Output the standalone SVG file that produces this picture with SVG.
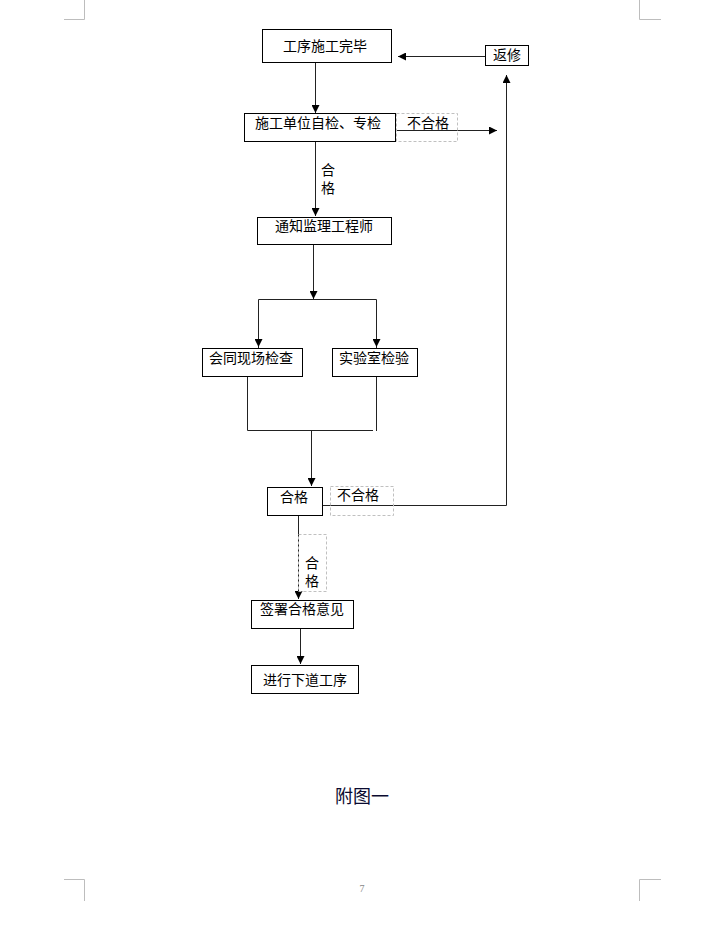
<svg xmlns="http://www.w3.org/2000/svg" width="709" height="933" viewBox="0 0 709 933">
<style>
.box{fill:#fff;stroke:#000;stroke-width:1}
.lbl{fill:none;stroke:#c0c0c0;stroke-width:1;stroke-dasharray:3,2}
.t{font-family:"Noto Sans CJK SC","Liberation Sans",sans-serif;font-size:14px;fill:#000;text-anchor:middle}
.v{font-family:"Noto Sans CJK SC","Liberation Sans",sans-serif;font-size:14px;fill:#000;text-anchor:middle;writing-mode:vertical-rl;letter-spacing:4px}
.ln{fill:none;stroke:#222;stroke-width:1}
.corner{fill:none;stroke:#bdbdbd;stroke-width:1}
</style>
<defs>
<marker id="ah" viewBox="0 0 10 10" refX="10" refY="5" markerWidth="8" markerHeight="8" markerUnits="userSpaceOnUse" orient="auto">
<path d="M0,0 L10,5 L0,10 z" fill="#000"/>
</marker>
</defs>
<rect width="709" height="933" fill="#fff"/>
<g id="corners">
<path class="corner" d="M84.5,0 V19.5 H64"/>
<path class="corner" d="M639.5,0 V19.5 H661"/>
<path class="corner" d="M64,879.5 H84.5 V901"/>
<path class="corner" d="M661,879.5 H639.5 V901"/>
</g>
<g id="connectors">
<line class="ln" x1="485" y1="56.5" x2="398" y2="56.5" marker-end="url(#ah)"/>
<line class="ln" x1="315.5" y1="63" x2="315.5" y2="113" marker-end="url(#ah)"/>
<line class="ln" x1="396" y1="130.5" x2="497" y2="130.5" marker-end="url(#ah)"/>
<line class="ln" x1="315.5" y1="142" x2="315.5" y2="216" marker-end="url(#ah)"/>
<line class="ln" x1="313.5" y1="244" x2="313.5" y2="299" marker-end="url(#ah)"/>
<path class="ln" d="M258.5,348 V299.5 H376.5 V348"/>
<line class="ln" x1="258.5" y1="330" x2="258.5" y2="347" marker-end="url(#ah)"/>
<line class="ln" x1="376.5" y1="330" x2="376.5" y2="347" marker-end="url(#ah)"/>
<path class="ln" d="M247.5,376 V430.5 H373"/>
<line class="ln" x1="376.5" y1="376" x2="376.5" y2="431"/>
<line class="ln" x1="311.5" y1="430" x2="311.5" y2="486" marker-end="url(#ah)"/>
<path class="ln" d="M323,505.5 H506.5 V76"/>
<line class="ln" x1="506.5" y1="90" x2="506.5" y2="75" marker-end="url(#ah)"/>
<line class="ln" x1="298.5" y1="515" x2="298.5" y2="599" marker-end="url(#ah)"/>
<line class="ln" x1="300.5" y1="628" x2="300.5" y2="664" marker-end="url(#ah)"/>
</g>
<g id="n1"><rect class="box" x="262.5" y="29.5" width="129" height="33"/><text class="t" x="325" y="51">工序施工完毕</text></g>
<g id="n2"><rect class="box" x="485.5" y="45.5" width="43" height="20"/><text class="t" x="507" y="60">返修</text></g>
<g id="n3"><rect class="box" x="244.5" y="113.5" width="151" height="28"/><text class="t" x="318" y="128">施工单位自检、专检</text></g>
<g id="l1"><rect class="lbl" x="396.5" y="113.5" width="61" height="28"/><text class="t" x="428" y="128">不合格</text></g>
<g id="l2"><text class="v" x="328" y="181">合格</text></g>
<g id="n4"><rect class="box" x="257.5" y="217.5" width="134" height="27"/><text class="t" x="324" y="231">通知监理工程师</text></g>
<g id="n5"><rect class="box" x="202.5" y="348.5" width="100" height="28"/><text class="t" x="251" y="363">会同现场检查</text></g>
<g id="n6"><rect class="box" x="332.5" y="348.5" width="85" height="28"/><text class="t" x="374" y="363">实验室检验</text></g>
<g id="n7"><rect class="box" x="267.5" y="487.5" width="55" height="28"/><text class="t" x="294" y="502">合格</text></g>
<g id="l3"><rect class="lbl" x="330.5" y="486.5" width="63" height="29"/><text class="t" x="358" y="500">不合格</text></g>
<g id="l4"><rect class="lbl" x="298.5" y="534.5" width="28" height="57"/><text class="v" x="312" y="574">合格</text></g>
<g id="n8"><rect class="box" x="251.5" y="600.5" width="102" height="28"/><text class="t" x="302" y="614">签署合格意见</text></g>
<g id="n9"><rect class="box" x="251.5" y="665.5" width="107" height="28"/><text class="t" x="305" y="685">进行下道工序</text></g>
<text x="362" y="803" font-family="Noto Sans CJK SC, sans-serif" font-size="18" fill="#0a0a30" text-anchor="middle">附图一</text>
<text x="362" y="892" font-family="Liberation Serif, serif" font-size="10" fill="#888" text-anchor="middle">7</text>
</svg>
